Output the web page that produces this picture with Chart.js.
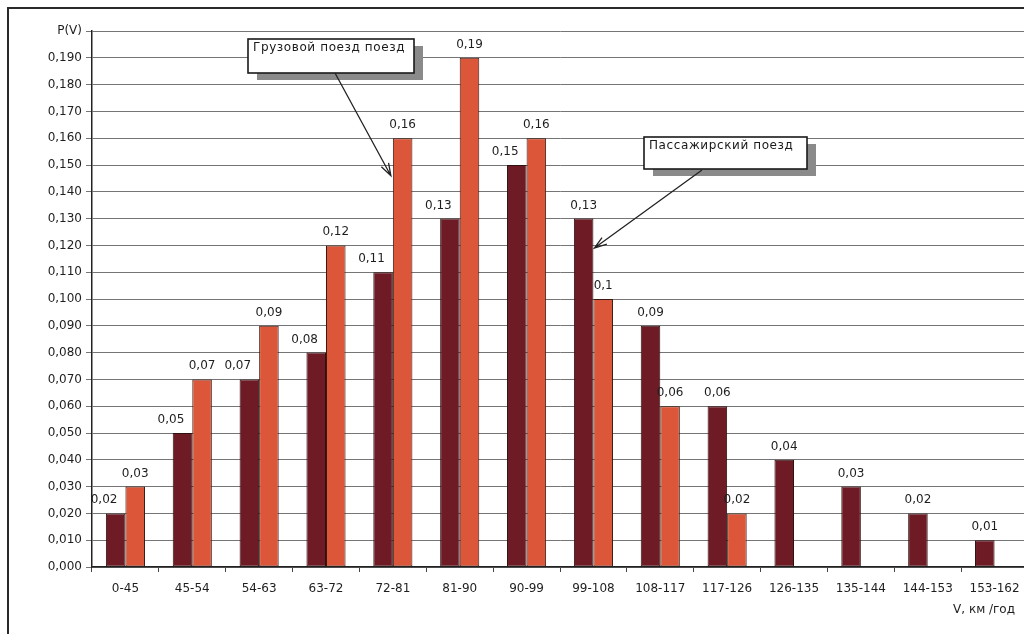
<!DOCTYPE html>
<html><head><meta charset="utf-8">
<script src="https://cdn.jsdelivr.net/npm/chart.js@4"></script>
<style>
html,body{margin:0;padding:0;background:#fff;overflow:hidden;width:1024px;height:634px}
#frame{position:absolute;left:7px;top:7px;width:1100px;height:700px;border:2px solid #2a2a2a;box-sizing:border-box}
#c{position:absolute;left:0;top:0}
</style></head><body>
<div id="frame"></div>
<canvas id="c" width="1040" height="634"></canvas>
<script>
const categories = ['0-45','45-54','54-63','63-72','72-81','81-90','90-99','99-108','108-117','117-126','126-135','135-144','144-153','153-162'];
const passengerValues = [0.02,0.05,0.07,0.08,0.11,0.13,0.15,0.13,0.09,0.06,0.04,0.03,0.02,0.01];
const freightValues = [0.03,0.07,0.09,0.12,0.16,0.19,0.16,0.1,0.06,0.02,null,null,null,null];
const yTopLabel = 'P(V)';
const xAxisTitle = 'V, км /год';
const freightNote = 'Грузовой поезд поезд';
const passengerNote = 'Пассажирский поезд';

const FONT = 'DejaVu Sans';
const fmt = v => String(v).replace('.', ',');

const labelsPlugin = {
  id: 'extras',
  afterDatasetsDraw(chart) {
    const ctx = chart.ctx;
    const m0 = chart.getDatasetMeta(0), m1 = chart.getDatasetMeta(1);
    ctx.save();
    ctx.font = '12px "' + FONT + '"';
    ctx.fillStyle = '#1e1e1e';
    ctx.textBaseline = 'alphabetic';
    passengerValues.forEach((v, i) => {
      const el = m0.data[i];
      const f = freightValues[i];
      if (f !== null && f > v) {
        ctx.textAlign = 'right';
        ctx.fillText(fmt(v), el.x + el.width / 2 - 8, el.y - 10);
      } else {
        ctx.textAlign = 'center';
        ctx.fillText(fmt(v), el.x, el.y - 10);
      }
    });
    freightValues.forEach((v, i) => {
      if (v === null) return;
      const el = m1.data[i];
      ctx.textAlign = 'center';
      ctx.fillText(fmt(v), el.x, el.y - 10);
    });
    // axis title
    ctx.textAlign = 'right';
    ctx.textBaseline = 'middle';
    ctx.fillText(xAxisTitle, 1015, 610);

    const ys = chart.scales.y;
    // callouts
    function callout(box, text, from, to) {
      ctx.fillStyle = '#8a8a8a';
      ctx.fillRect(box.x + 9, box.y + 7, box.w, box.h);
      ctx.fillStyle = '#fff';
      ctx.fillRect(box.x, box.y, box.w, box.h);
      ctx.strokeStyle = '#1a1a1a';
      ctx.lineWidth = 1.6;
      ctx.strokeRect(box.x, box.y, box.w, box.h);
      ctx.fillStyle = '#1a1a1a';
      ctx.font = '12px "' + FONT + '"';
      ctx.letterSpacing = '0.6px';
      ctx.textAlign = 'left';
      ctx.textBaseline = 'alphabetic';
      ctx.fillText(text, box.x + 5, box.y + 12);
      ctx.letterSpacing = '0px';
      // arrow
      ctx.strokeStyle = '#222';
      ctx.lineWidth = 1.3;
      ctx.beginPath();
      ctx.moveTo(from.x, from.y);
      ctx.lineTo(to.x, to.y);
      const a = Math.atan2(to.y - from.y, to.x - from.x);
      const L = 13, w = 0.32;
      ctx.moveTo(to.x - L * Math.cos(a - w), to.y - L * Math.sin(a - w));
      ctx.lineTo(to.x, to.y);
      ctx.lineTo(to.x - L * Math.cos(a + w), to.y - L * Math.sin(a + w));
      ctx.stroke();
    }
    const fEl = m1.data[4];
    callout({x: 248, y: 39, w: 166, h: 34}, freightNote,
      {x: 335, y: 73}, {x: fEl.x - fEl.width / 2 - 2, y: ys.getPixelForValue(0.146)});
    const pEl = m0.data[7];
    callout({x: 644, y: 137, w: 163, h: 32}, passengerNote,
      {x: 702, y: 170}, {x: pEl.x + pEl.width / 2 + 1, y: ys.getPixelForValue(0.119)});
    ctx.restore();
  }
};

new Chart(document.getElementById('c'), {
  type: 'bar',
  data: {
    labels: categories,
    datasets: [
      { label: 'Пассажирский поезд', data: passengerValues, backgroundColor: '#6e1b25', borderColor: '#2e1210', borderWidth: 1, borderSkipped: false },
      { label: 'Грузовой поезд', data: freightValues, backgroundColor: '#dc5639', borderColor: '#3a1a10', borderWidth: 1, borderSkipped: false }
    ]
  },
  options: {
    responsive: false,
    animation: false,
    events: [],
    layout: { padding: { left: 0, top: 31, right: 12, bottom: 0 } },
    datasets: { bar: { categoryPercentage: 0.585, barPercentage: 1.0 } },
    plugins: { legend: { display: false }, tooltip: { enabled: false } },
    scales: {
      x: {
        offset: true,
        afterFit(s) { s.height = 67; },
        grid: { display: true, drawOnChartArea: false, drawTicks: true, tickLength: 5, color: '#444', offset: true },
        border: { display: true, color: '#222', width: 1.5 },
        ticks: { color: '#1e1e1e', font: { family: FONT, size: 12 }, padding: 10, maxRotation: 0, autoSkip: false }
      },
      y: {
        min: 0, max: 0.2,
        afterFit(s) { s.width = 92; },
        grid: { color: '#757575', lineWidth: 1, tickLength: 6 },
        border: { display: true, color: '#222', width: 1.5 },
        ticks: {
          stepSize: 0.01, autoSkip: false, color: '#1e1e1e', padding: 4,
          font: { family: FONT, size: 12 },
          callback: v => Math.abs(v - 0.2) < 1e-9 ? yTopLabel : v.toFixed(3).replace('.', ',')
        }
      }
    }
  },
  plugins: [labelsPlugin]
});
</script>
</body></html>
